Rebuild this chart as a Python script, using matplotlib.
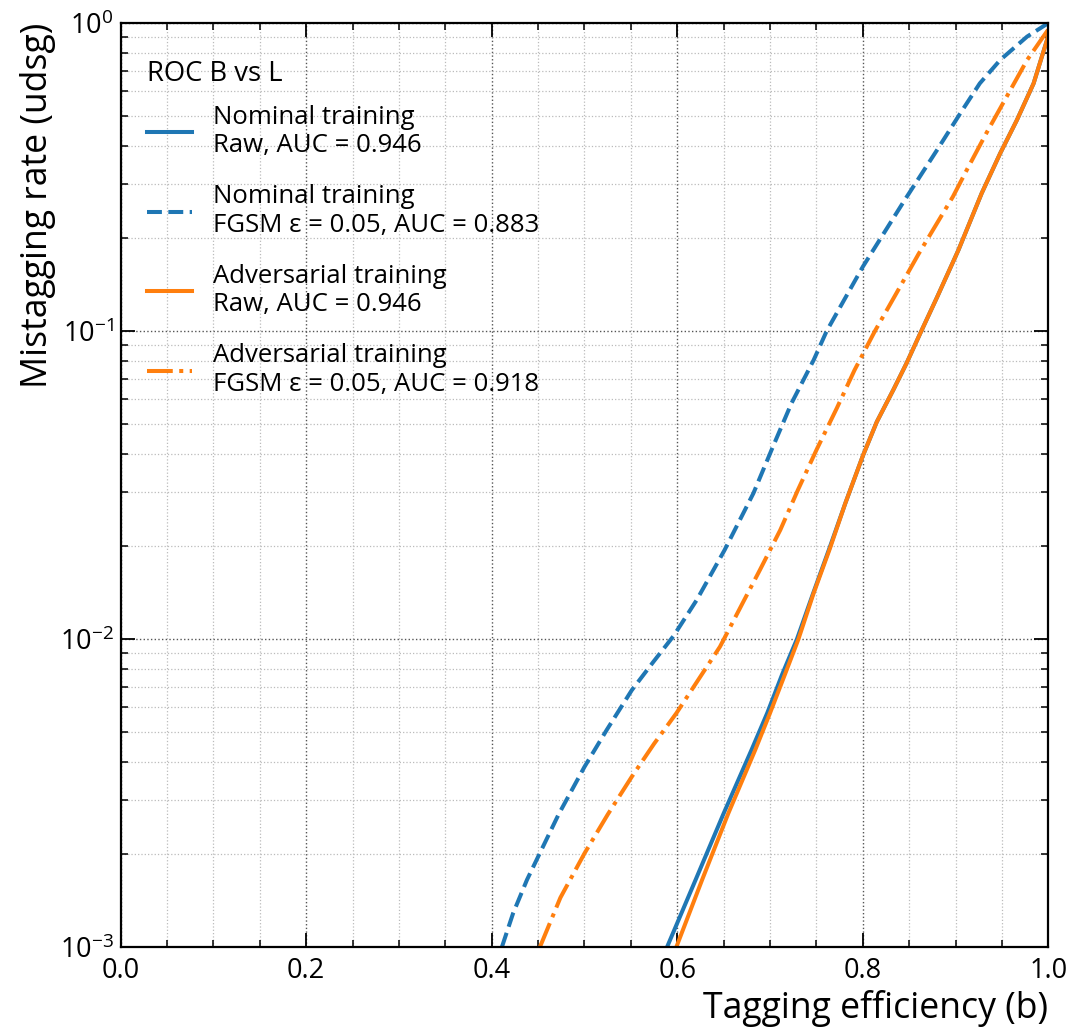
import numpy as np
import matplotlib
matplotlib.use("Agg")
import matplotlib.pyplot as plt
from matplotlib.ticker import MultipleLocator, LogLocator, NullFormatter

FONT = "Open Sans"
plt.rcParams['font.family'] = [FONT, 'DejaVu Sans']
plt.rcParams['mathtext.fontset'] = 'custom'
plt.rcParams['mathtext.rm'] = FONT
plt.rcParams['mathtext.it'] = FONT + ':italic'
plt.rcParams['mathtext.bf'] = FONT + ':bold'

# ---- data (tagging efficiency, log10 mistag rate) ----
nom_raw_x = [0.589, 0.620, 0.650, 0.680, 0.697, 0.713, 0.729, 0.746, 0.764, 0.781,
             0.800, 0.815, 0.833, 0.847, 0.863, 0.880, 0.903, 0.928, 0.948, 0.966, 0.984, 1.0]
nom_raw_logy = [-3.0, -2.78, -2.566, -2.36, -2.24, -2.115, -2.0, -1.855, -1.705, -1.56,
                -1.405, -1.295, -1.19, -1.105, -1.0, -0.89, -0.737, -0.553, -0.423, -0.315, -0.196, -0.04]

nom_fgsm_x = [0.411, 0.423, 0.438, 0.45, 0.472, 0.5, 0.524, 0.551, 0.574, 0.596, 0.621,
              0.651, 0.682, 0.703, 0.723, 0.747, 0.761, 0.800, 0.845, 0.880, 0.905,
              0.926, 0.948, 0.977, 1.0]
nom_fgsm_logy = [-3.0, -2.891, -2.782, -2.707, -2.57, -2.415, -2.295, -2.166, -2.075, -1.99, -1.873,
                 -1.711, -1.527, -1.376, -1.235, -1.094, -1.0, -0.791, -0.575, -0.412, -0.293,
                 -0.196, -0.12, -0.044, 0.0]

adv_raw_x = [0.599, 0.627, 0.655, 0.684, 0.700, 0.716, 0.7306, 0.7465, 0.7646, 0.781,
             0.800, 0.815, 0.833, 0.847, 0.863, 0.880, 0.903, 0.928, 0.948, 0.966, 0.984, 1.0]
adv_raw_logy = [-3.0, -2.78, -2.566, -2.36, -2.24, -2.115, -2.0, -1.855, -1.705, -1.56,
                -1.405, -1.295, -1.19, -1.105, -1.0, -0.89, -0.737, -0.553, -0.423, -0.315, -0.196, -0.04]

adv_fgsm_x = [0.452, 0.474, 0.5, 0.525, 0.551, 0.575, 0.599, 0.646, 0.671, 0.689, 0.711,
              0.730, 0.750, 0.772, 0.791, 0.813, 0.836, 0.860, 0.897, 0.912, 0.933,
              0.955, 0.977, 1.0]
adv_fgsm_logy = [-3.0, -2.84, -2.696, -2.57, -2.447, -2.34, -2.241, -2.025, -1.88, -1.776, -1.646,
                 -1.516, -1.386, -1.25, -1.127, -1.0, -0.878, -0.750, -0.564, -0.477, -0.358,
                 -0.239, -0.12, -0.02]

labels = ["Nominal training\nRaw, AUC = 0.946",
          "Nominal training\nFGSM ε = 0.05, AUC = 0.883",
          "Adversarial training\nRaw, AUC = 0.946",
          "Adversarial training\nFGSM ε = 0.05, AUC = 0.918"]
legend_title = "ROC B vs L"
xlabel = "Tagging efficiency (b)"
ylabel = "Mistagging rate (udsg)"

BLUE = "#1f77b4"
ORANGE = "#ff7f0e"

fig = plt.figure(figsize=(10.82, 10.28), dpi=100)
ax = fig.add_axes([0.1114, 0.0788, 0.969 - 0.1114, 0.9776 - 0.0788])

lw = 2.9
ax.plot(nom_raw_x, 10 ** np.array(nom_raw_logy), color=BLUE, lw=lw, ls='-', label=labels[0])
ax.plot(nom_fgsm_x, 10 ** np.array(nom_fgsm_logy), color=BLUE, lw=lw, ls='--', label=labels[1])
ax.plot(adv_raw_x, 10 ** np.array(adv_raw_logy), color=ORANGE, lw=lw, ls='-', label=labels[2])
ax.plot(adv_fgsm_x, 10 ** np.array(adv_fgsm_logy), color=ORANGE, lw=lw, ls='-.', label=labels[3])

ax.set_yscale('log')
ax.set_xlim(0, 1)
ax.set_ylim(1e-3, 1)

ax.xaxis.set_major_locator(MultipleLocator(0.2))
ax.xaxis.set_minor_locator(MultipleLocator(0.05))
ax.xaxis.set_major_formatter(matplotlib.ticker.FormatStrFormatter('%.1f'))
ax.yaxis.set_major_locator(LogLocator(base=10, numticks=10))
ax.yaxis.set_minor_locator(LogLocator(base=10, subs=np.arange(2, 10), numticks=20))
ax.yaxis.set_minor_formatter(NullFormatter())

ax.tick_params(which='both', direction='in', top=True, right=True, labelsize=19.5)
ax.tick_params(which='major', length=10, width=1.3)
ax.tick_params(which='minor', length=5, width=1.1)
ax.tick_params(axis='x', which='major', pad=7)
ax.tick_params(axis='y', which='major', pad=5)
for s in ax.spines.values():
    s.set_linewidth(1.6)

ax.grid(which='major', color='#555555', ls=':', lw=1.0)
ax.grid(which='minor', color='#bbbbbb', ls=':', lw=0.9)
ax.set_axisbelow(True)

ax.set_xlabel(xlabel, loc='right', fontsize=25.7, labelpad=4)
ax.set_ylabel(ylabel, loc='top', fontsize=25.7, labelpad=3)

leg = ax.legend(title=legend_title, loc='upper left', frameon=False, fontsize=18.5,
                title_fontsize=19.8, handlelength=1.75, handletextpad=0.8,
                labelspacing=1.0, bbox_to_anchor=(0.004, 0.985))
leg._legend_box.align = 'left'
leg._legend_box.sep = 12

fig.savefig("out.png", dpi=100)
